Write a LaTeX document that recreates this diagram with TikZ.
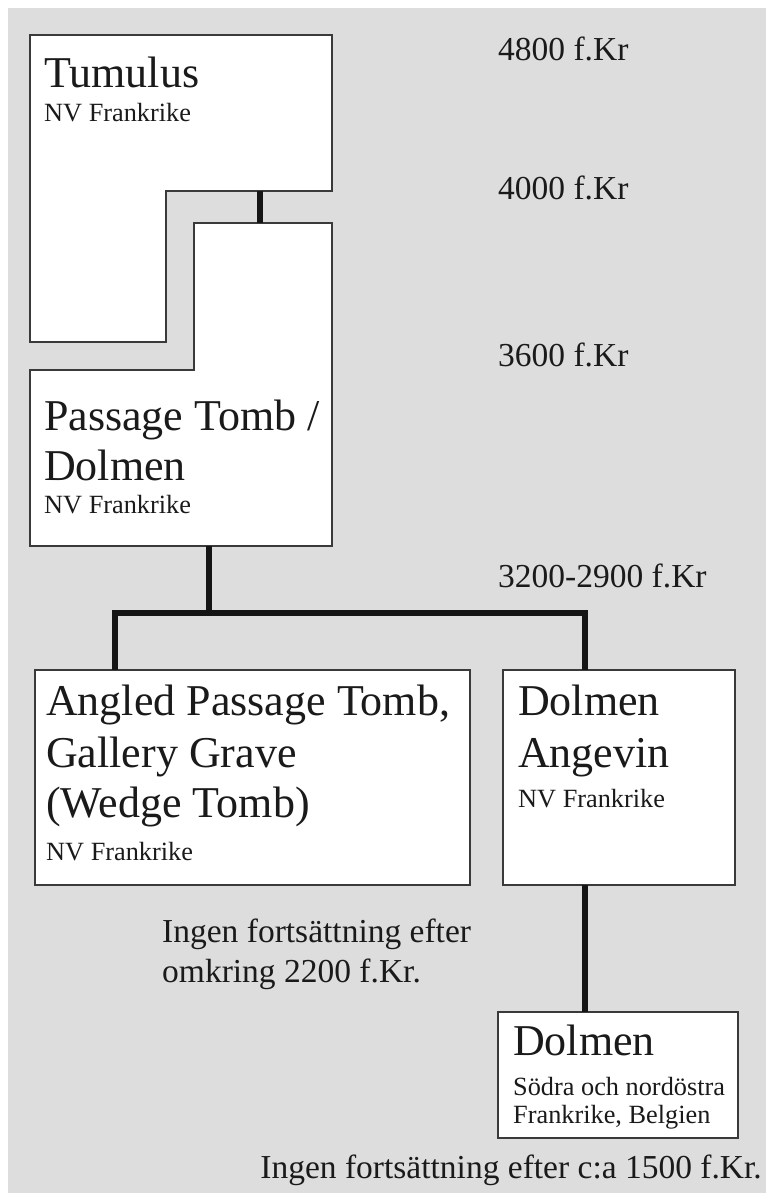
\documentclass[tikz,border=0pt]{standalone}
\usepackage{fontspec}
\setmainfont{Liberation Serif}
\definecolor{bggray}{HTML}{DDDDDD}
\definecolor{ink}{HTML}{1A1A1A}
\definecolor{linegray}{HTML}{3A3A3A}
\definecolor{connblack}{HTML}{151515}
\begin{document}
\begin{tikzpicture}[x=1pt,y=-1pt,
  shapebox/.style={draw=linegray, line width=1.4pt, fill=white},
  boxnode/.style={shapebox, inner sep=0pt, outer sep=0pt},
  conn/.style={line width=6pt, draw=connblack, line join=miter},
  title/.style={anchor=base west, inner sep=0pt, font=\fontsize{44}{50}\selectfont, text=ink},
  sub/.style={anchor=base west, inner sep=0pt, font=\fontsize{26.3}{28}\selectfont, text=ink},
  datelbl/.style={anchor=base west, inner sep=0pt, font=\fontsize{33.5}{36}\selectfont, text=ink},
  note/.style={inner sep=0pt, font=\fontsize{33.5}{40}\selectfont, text=ink}]
\useasboundingbox (0,0) rectangle (766,1193);
\fill[bggray] (8,8) rectangle (766,1193);

% L-shaped boxes
\draw[shapebox] (30,35) -- (332,35) -- (332,191) -- (166,191) -- (166,342) -- (30,342) -- cycle;
\draw[shapebox] (194,223) -- (332,223) -- (332,546) -- (30,546) -- (30,370) -- (194,370) -- cycle;
\coordinate (tumB) at (260,191);
\coordinate (pasT) at (260,223);
\coordinate (pasB) at (209,546);
\coordinate (fork) at (209,613);

% rectangular boxes
\node[boxnode, minimum width=435pt, minimum height=215pt] (angled) at (252.5,777.5) {};
\node[boxnode, minimum width=232pt, minimum height=215pt] (angevin) at (619,777.5) {};
\node[boxnode, minimum width=240pt, minimum height=126pt] (dolmen) at (618,1075) {};

% connectors
\draw[conn] (tumB) -- (pasT);
\draw[conn] (pasB) -- (fork);
\draw[conn] ([xshift=80pt]angled.north west) |- (fork) -| ([xshift=82pt]angevin.north west);
\draw[conn] ([xshift=82pt]angevin.south west) -- ([xshift=87pt]dolmen.north west);

% texts
\node[title] (tumT) at (44,88) {Tumulus};
\node[sub] (tumS) at (44,122) {NV Frankrike};

\node[title] (pasT1) at (44,430) {Passage Tomb /};
\node[title] (pasT2) at (44,480) {Dolmen};
\node[sub] (pasS) at (44,513) {NV Frankrike};

\node[title] (angT1) at (46,715) {Angled Passage Tomb,};
\node[title] (angT2) at (46,767) {Gallery Grave};
\node[title] (angT3) at (46,817) {(Wedge Tomb)};
\node[sub] (angS) at (46,860) {NV Frankrike};

\node[title] (anvT1) at (518,715) {Dolmen};
\node[title] (anvT2) at (518,767) {Angevin};
\node[sub] (anvS) at (518,807) {NV Frankrike};

\node[title] (dolT) at (513,1055) {Dolmen};
\node[sub] (dolS1) at (513,1095) {Södra och nordöstra};
\node[sub] (dolS2) at (513,1123) {Frankrike, Belgien};

\node[datelbl] (d1) at (498,61) {4800 f.Kr};
\node[datelbl] (d2) at (498,200) {4000 f.Kr};
\node[datelbl] (d3) at (498,366) {3600 f.Kr};
\node[datelbl] (d4) at (498,587) {3200-2900 f.Kr};

\node[note, anchor=base west] (end1a) at (162,942) {Ingen fortsättning efter};
\node[note, anchor=base west] (end1b) at (162,982) {omkring 2200 f.Kr.};
\node[note, anchor=base east] (end2) at (762,1178) {Ingen fortsättning efter c:a 1500 f.Kr.};
\end{tikzpicture}
\end{document}
